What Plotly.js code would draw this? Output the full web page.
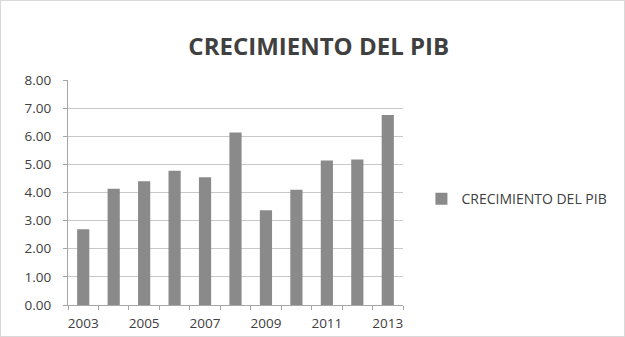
<!DOCTYPE html>
<html><head><meta charset="utf-8">
<script src="https://cdn.plot.ly/plotly-3.0.1.min.js"></script>
<style>html,body{margin:0;padding:0;background:#fff}#c{width:625px;height:337px;box-sizing:border-box;border:1px solid #d9d9d9}</style>
</head><body><div id="c"></div>
<script>
const years = [2003,2004,2005,2006,2007,2008,2009,2010,2011,2012,2013];
const pib = [2.69,4.13,4.40,4.77,4.54,6.13,3.37,4.10,5.14,5.17,6.76];
const yearLabels = [2003,2005,2007,2009,2011,2013];
const seriesName = 'CRECIMIENTO DEL PIB';
const chartTitle = 'CRECIMIENTO DEL PIB';

Plotly.newPlot('c', [{
  type:'bar', x: years, y: pib, name: seriesName,
  marker:{color:'#8a8a8a', line:{width:0}}, showlegend:true
}], {
  width:623, height:335,
  margin:{l:67, r:219, t:79, b:31},
  paper_bgcolor:'#fff', plot_bgcolor:'#fff',
  font:{family:'Open Sans, sans-serif', color:'#595959', size:12},
  title:{text:chartTitle, x:0.51, xanchor:'center', y:0.865, yanchor:'middle',
    font:{family:'Open Sans, sans-serif', size:24, color:'#404040', weight:'bold'}},
  bargap:0.6,
  xaxis:{range:[2002.5,2013.5], tickvals:yearLabels, ticks:'', showgrid:false,
    showline:true, linecolor:'#a6a6a6', tickfont:{size:13.5,color:'#404040'}, ticklabelstandoff:6,
    minor:{tick0:2002.5, dtick:1, ticks:'outside', ticklen:4, tickcolor:'#a6a6a6', showgrid:false},
    fixedrange:true},
  yaxis:{range:[0,8], dtick:1, tickformat:'.2f', showgrid:true, gridcolor:'#c8c8c8',
    showline:true, linecolor:'#a6a6a6', ticks:'outside', ticklen:4, tickcolor:'#a6a6a6',
    tickfont:{size:13.5,color:'#404040'}, zeroline:false, ticklabelstandoff:9},
  legend:{x:1.055, y:0.47, xanchor:'left', yanchor:'middle', font:{size:14, color:'#404040'},
    itemwidth:30, bgcolor:'rgba(0,0,0,0)'}
}, {displayModeBar:false, staticPlot:true});
</script></body></html>
